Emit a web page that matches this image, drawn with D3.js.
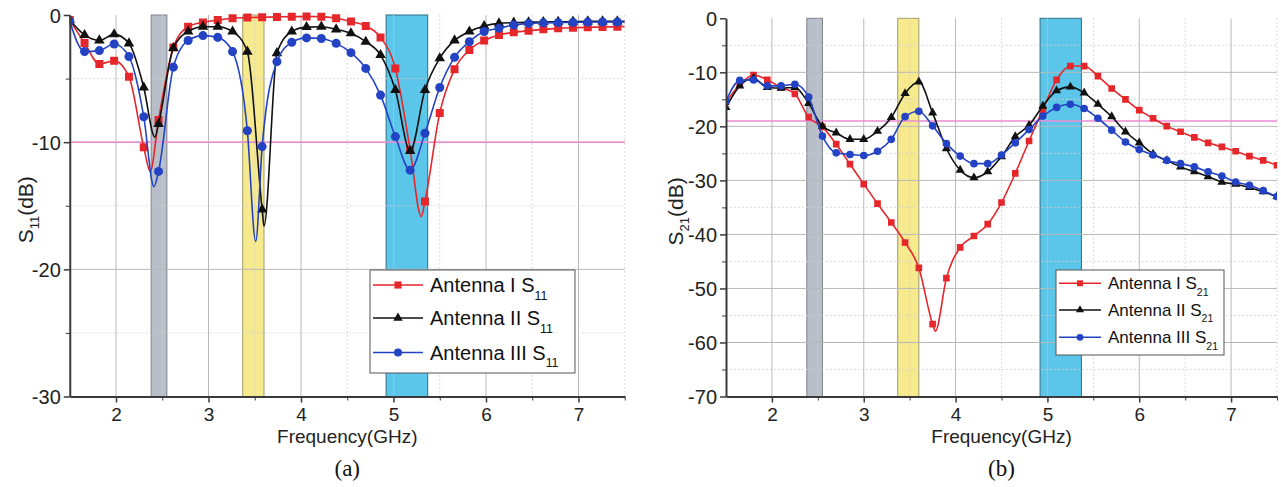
<!DOCTYPE html>
<html lang="en">
<head>
<meta charset="UTF-8">
<title>S11 and S21 of three antennas</title>
<script src="https://d3js.org/d3.v7.min.js"></script>
<style>
  body { margin: 0; background: #fff; font-family: "Liberation Sans", Arial, sans-serif; }
  svg { display: block; }
  .tick text { font-family: "Liberation Sans", Arial, sans-serif; fill: #222; }
</style>
</head>
<body>
<svg id="chart" width="1281" height="487"></svg>
<script>
// ---- panel (a): S11, markers every 0.16 GHz ----
const freqS11 = [1.50, 1.66, 1.82, 1.98, 2.14, 2.30, 2.46, 2.62, 2.78, 2.94,
                 3.10, 3.26, 3.42, 3.58, 3.74, 3.90, 4.06, 4.22, 4.38, 4.54,
                 4.70, 4.86, 5.02, 5.18, 5.34, 5.50, 5.66, 5.82, 5.98, 6.14,
                 6.30, 6.46, 6.62, 6.78, 6.94, 7.10, 7.26, 7.42];
const s11Ant1 = [-0.4, -2.2, -3.85, -3.6, -4.85, -10.4, -8.25, -2.55, -0.92, -0.58,
                 -0.4, -0.26, -0.2, -0.18, -0.15, -0.13, -0.12, -0.13, -0.26, -0.52,
                 -0.86, -1.76, -4.2, -10.6, -14.67, -7.7, -4.27, -2.75, -2.0, -1.57,
                 -1.36, -1.23, -1.13, -1.05, -1.0, -0.97, -0.94, -0.92];
const s11Ant2 = [-0.4, -1.57, -2.0, -1.52, -2.23, -5.7, -8.56, -2.6, -1.3, -0.92,
                 -0.92, -1.3, -2.88, -15.3, -3.0, -1.3, -0.95, -0.92, -1.13, -1.44,
                 -2.1, -3.15, -5.9, -10.7, -5.9, -3.4, -2.0, -1.3, -0.87, -0.66,
                 -0.6, -0.57, -0.55, -0.53, -0.52, -0.5, -0.5, -0.5];
const s11Ant3 = [-0.5, -2.88, -2.8, -2.28, -3.27, -8.0, -12.3, -4.1, -2.0, -1.62,
                 -1.76, -2.88, -9.1, -10.35, -3.67, -2.15, -1.8, -1.85, -2.23, -2.96,
                 -4.2, -6.3, -9.56, -12.2, -9.3, -5.7, -3.33, -2.1, -1.3, -1.05,
                 -0.79, -0.66, -0.62, -0.6, -0.58, -0.56, -0.55, -0.55];
// resonance minima between markers, and the end of each trace (no marker)
const s11Ant1Extra = [[2.37, -12.3], [5.30, -15.85], [7.5, -0.9]];
const s11Ant2Extra = [[2.42, -9.6], [3.60, -16.6], [7.5, -0.5]];
const s11Ant3Extra = [[2.41, -13.5], [3.51, -17.8], [7.5, -0.55]];

// ---- panel (b): S21, markers every 0.15 GHz ----
const freqS21 = [1.50, 1.65, 1.80, 1.95, 2.10, 2.25, 2.40, 2.55, 2.70, 2.85,
                 3.00, 3.15, 3.30, 3.45, 3.60, 3.75, 3.90, 4.05, 4.20, 4.35,
                 4.50, 4.65, 4.80, 4.95, 5.10, 5.25, 5.40, 5.55, 5.70, 5.85,
                 6.00, 6.15, 6.30, 6.45, 6.60, 6.75, 6.90, 7.05, 7.20, 7.35, 7.50];
const s21Ant1 = [-15.5, -12.3, -10.5, -11.4, -12.8, -14.0, -18.3, -20.1, -23.3, -27.0,
                 -30.7, -34.3, -37.8, -41.5, -46.2, -56.6, -48.1, -42.4, -40.3, -38.1,
                 -34.1, -28.7, -22.7, -16.9, -11.4, -8.84, -8.84, -10.7, -13.0, -15.0,
                 -17.0, -18.5, -19.96, -21.0, -22.05, -23.05, -23.8, -24.6, -25.5, -26.3, -27.2];
const s21Ant2 = [-16.5, -12.5, -11.1, -12.8, -12.9, -12.8, -15.75, -20.0, -21.2, -22.4,
                 -22.4, -20.9, -18.35, -13.9, -11.75, -17.5, -24.1, -28.1, -29.5, -28.4,
                 -25.6, -21.9, -19.8, -16.25, -13.4, -12.7, -13.8, -15.9, -18.2, -21.0,
                 -23.05, -25.1, -26.3, -27.5, -28.4, -29.3, -30.3, -30.7, -31.3, -32.1, -33.0];
const s21Ant3 = [-15.3, -11.5, -11.4, -12.5, -12.5, -12.2, -14.6, -21.8, -24.9, -25.2,
                 -25.4, -24.6, -22.4, -18.2, -17.2, -19.9, -23.2, -25.5, -26.9, -26.9,
                 -25.3, -23.05, -20.6, -18.1, -16.5, -15.9, -16.7, -18.5, -20.7, -22.9,
                 -24.3, -25.3, -26.3, -26.9, -27.5, -28.4, -29.2, -30.3, -30.9, -31.9, -33.0];
const s21Ant1Extra = [[3.78, -57.9]];
const s21Ant2Extra = [];
const s21Ant3Extra = [];

// shaded bands (GHz) and reference levels (dB)
const bandRanges = [[2.38, 2.55], [3.37, 3.60], [4.92, 5.37]];
const s11RefLevel = -10;
const s21RefLevel = -19;
const antennaNames = ["Antenna I ", "Antenna II ", "Antenna III "];

const svg = d3.select("#chart");
const colors = ["#e5262b", "#111111", "#2343c4"];
const symbols = [d3.symbolSquare, d3.symbolTriangle, d3.symbolCircle];
const bandFill = ["#b9bfc9", "#f6e98e", "#5cc6ea"];
const bandEdge = ["#7d838c", "#a09a70", "#2f6f86"];

function drawPanel(p) {
    const x = d3.scaleLinear().domain([1.5, 7.5]).range([p.left, p.right]);
    const y = d3.scaleLinear().domain([p.yMin, 0]).range([p.bottom, p.top]);
    const g = svg.append("g");

    // bands
    g.selectAll("rect.band").data(bandRanges).join("rect")
        .attr("class", "band")
        .attr("x", d => x(d[0]))
        .attr("width", d => x(d[1]) - x(d[0]))
        .attr("y", y(0))
        .attr("height", y(p.yMin) - y(0))
        .attr("fill", (d, i) => bandFill[i])
        .attr("stroke", (d, i) => bandEdge[i])
        .attr("stroke-width", 1);

    // grid
    const xMajor = [2, 3, 4, 5, 6, 7];
    const xMinor = [2.5, 3.5, 4.5, 5.5, 6.5, 7.5];
    const yMajor = d3.range(p.yMin + p.yStep, 0, p.yStep);
    const yMinor = d3.range(p.yMin + p.yStep / 2, 0, p.yStep);
    g.selectAll("line.gx").data(xMajor).join("line")
        .attr("x1", d => x(d)).attr("x2", d => x(d))
        .attr("y1", y(0)).attr("y2", y(p.yMin))
        .attr("stroke", "#b8b8b8").attr("stroke-width", 1);
    g.selectAll("line.gxm").data(xMinor).join("line")
        .attr("x1", d => x(d)).attr("x2", d => x(d))
        .attr("y1", y(0)).attr("y2", y(p.yMin))
        .attr("stroke", "#cfcfcf").attr("stroke-dasharray", "1.5,2.5");
    g.selectAll("line.gy").data(yMajor).join("line")
        .attr("x1", x(1.5)).attr("x2", x(7.5))
        .attr("y1", d => y(d)).attr("y2", d => y(d))
        .attr("stroke", "#b8b8b8").attr("stroke-width", 1);
    g.selectAll("line.gym").data(yMinor).join("line")
        .attr("x1", x(1.5)).attr("x2", x(7.5))
        .attr("y1", d => y(d)).attr("y2", d => y(d))
        .attr("stroke", "#cfcfcf").attr("stroke-dasharray", "1.5,2.5");

    // reference line
    g.append("line")
        .attr("x1", x(1.5)).attr("x2", x(7.5))
        .attr("y1", y(p.ref)).attr("y2", y(p.ref))
        .attr("stroke", "#ea8ad2").attr("stroke-width", 1.5);

    // series
    const clipId = "clip" + p.id;
    svg.append("clipPath").attr("id", clipId).append("rect")
        .attr("x", p.left).attr("y", p.top - 6)
        .attr("width", p.right - p.left).attr("height", p.bottom - p.top + 6);
    const line = d3.line().x(d => x(d[0])).y(d => y(d[1])).curve(d3.curveMonotoneX);
    p.series.forEach((vals, i) => {
        const pts = p.freq.map((f, k) => [f, vals[k]]);
        const all = pts.concat(p.extras[i]).sort((a, b) => a[0] - b[0]);
        const sg = g.append("g").attr("clip-path", `url(#${clipId})`);
        sg.append("path").datum(all)
            .attr("fill", "none")
            .attr("stroke", colors[i])
            .attr("stroke-width", 1.6)
            .attr("d", line);
        sg.selectAll("path.m").data(pts).join("path")
            .attr("class", "m")
            .attr("transform", d => `translate(${x(d[0])},${y(d[1])})`)
            .attr("d", d3.symbol().type(symbols[i]).size(p.markSize[i]))
            .attr("fill", colors[i]);
    });

    // axes
    const fmt = d => String(d);
    const ax = g.append("g").attr("transform", `translate(0,${p.bottom})`)
        .call(d3.axisBottom(x).tickValues(xMajor).tickSize(6).tickSizeOuter(0).tickFormat(fmt));
    g.append("g").attr("transform", `translate(0,${p.bottom})`)
        .call(d3.axisBottom(x).tickValues(xMinor).tickSize(4).tickFormat(""))
        .select(".domain").remove();
    const ay = g.append("g").attr("transform", `translate(${p.left},0)`)
        .call(d3.axisLeft(y).tickValues(d3.range(p.yMin, 0.1, p.yStep)).tickSize(6).tickSizeOuter(0).tickFormat(fmt));
    g.append("g").attr("transform", `translate(${p.left},0)`)
        .call(d3.axisLeft(y).tickValues(yMinor).tickSize(4).tickFormat(""))
        .select(".domain").remove();
    [ax, ay].forEach(a => {
        a.select(".domain").attr("stroke", "#3a3a3a").attr("stroke-width", 2);
        a.selectAll(".tick line").attr("stroke", "#3a3a3a").attr("stroke-width", 1.5);
        a.selectAll(".tick text").attr("font-size", 19);
    });
    ax.selectAll(".tick text").attr("dy", null).attr("y", 24.5);
    ay.selectAll(".tick text").attr("font-size", 20).attr("x", -9).attr("dy", "0.36em");
    g.selectAll(".tick line").attr("stroke", "#3a3a3a");

    // axis titles
    g.append("text")
        .attr("x", (p.left + p.right) / 2).attr("y", p.bottom + 46)
        .attr("text-anchor", "middle").attr("font-size", 19).attr("fill", "#222")
        .text("Frequency(GHz)");
    const yt = g.append("text")
        .attr("transform", `translate(${p.yTitleX},${(p.top + p.bottom) / 2 + 4}) rotate(-90)`)
        .attr("text-anchor", "middle").attr("font-size", 21).attr("fill", "#222");
    yt.append("tspan").text("S");
    yt.append("tspan").attr("dy", 6).attr("font-size", 13).text(p.sub);
    yt.append("tspan").attr("dy", -6).text("(dB)");

    // caption
    g.append("text")
        .attr("x", (p.left + p.right) / 2).attr("y", 476)
        .attr("text-anchor", "middle")
        .attr("font-family", "'Liberation Serif', 'Times New Roman', serif")
        .attr("font-size", 23).attr("fill", "#111")
        .text(p.caption);

    // legend
    const L = p.legend;
    g.append("rect")
        .attr("x", L.x).attr("y", L.y).attr("width", L.w).attr("height", L.h)
        .attr("fill", "#fff").attr("stroke", "#555").attr("stroke-width", 1);
    antennaNames.forEach((name, i) => {
        const ry = L.rows[i];
        g.append("line")
            .attr("x1", L.x + 3).attr("x2", L.x + 3 + L.sample)
            .attr("y1", ry).attr("y2", ry)
            .attr("stroke", colors[i]).attr("stroke-width", 1.6);
        g.append("path")
            .attr("transform", `translate(${L.x + 3 + L.sample / 2},${ry})`)
            .attr("d", d3.symbol().type(symbols[i]).size(p.markSize[i] * 0.8))
            .attr("fill", colors[i]);
        const t = g.append("text")
            .attr("x", L.x + L.sample + 10).attr("y", ry + L.base)
            .attr("font-size", L.font).attr("fill", "#111");
        t.append("tspan").text(name + "S");
        t.append("tspan").attr("dy", L.font * 0.38).attr("font-size", L.font * 0.62).text(p.sub);
    });
}

drawPanel({
    id: "a", left: 69.75, right: 624.75, top: 15, bottom: 396.5,
    yMin: -30, yStep: 10, ref: s11RefLevel, sub: "11", caption: "(a)", yTitleX: 33,
    freq: freqS11, series: [s11Ant1, s11Ant2, s11Ant3],
    extras: [s11Ant1Extra, s11Ant2Extra, s11Ant3Extra],
    markSize: [64, 48, 64],
    legend: { x: 370, y: 270, w: 205, h: 103, rows: [285, 318, 352.5], sample: 50, font: 20, base: 7 }
});
drawPanel({
    id: "b", left: 726, right: 1277, top: 18.3, bottom: 396.5,
    yMin: -70, yStep: 10, ref: s21RefLevel, sub: "21", caption: "(b)", yTitleX: 683,
    freq: freqS21, series: [s21Ant1, s21Ant2, s21Ant3],
    extras: [s21Ant1Extra, s21Ant2Extra, s21Ant3Extra],
    markSize: [44, 36, 46],
    legend: { x: 1056, y: 270, w: 168, h: 85, rows: [283.3, 310, 337.3], sample: 42, font: 17, base: 6 }
});
</script>
</body>
</html>
